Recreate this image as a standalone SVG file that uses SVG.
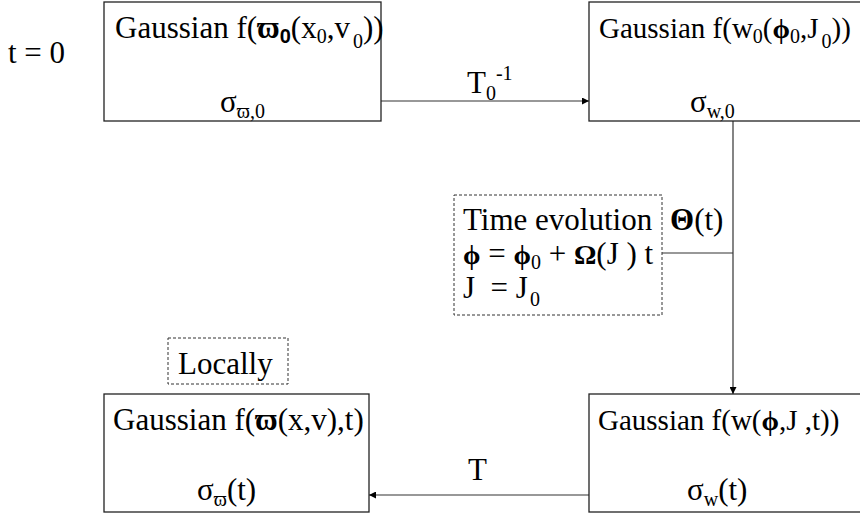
<svg xmlns="http://www.w3.org/2000/svg" width="860" height="517" viewBox="0 0 860 517" font-family="Liberation Serif, Times New Roman, serif" font-size="31">
<style>
.sub{font-size:20px}
.b{font-weight:bold}
.g{font-weight:bold;font-size:28px}
.sans{font-family:Liberation Sans, Arial, sans-serif;font-weight:bold}
.box{fill:#fff;stroke:#222;stroke-width:1.3}
.dash{fill:#fff;stroke:#333;stroke-width:1;stroke-dasharray:3,2}
.ln{fill:none;stroke:#333;stroke-width:1.2}
</style>
<defs>
<marker id="ah" viewBox="0 0 10 10" refX="10" refY="5" markerWidth="8" markerHeight="7" markerUnits="userSpaceOnUse" orient="auto">
<path d="M0,0 L10,5 L0,10 z" fill="#000"/>
</marker>
</defs>
<g id="connectors">
<line class="ln" x1="381" y1="101" x2="589" y2="101" marker-end="url(#ah)"/>
<line class="ln" x1="733" y1="121" x2="733" y2="394" marker-end="url(#ah)"/>
<line class="ln" x1="662" y1="253" x2="733" y2="253"/>
<line class="ln" x1="589" y1="495" x2="369" y2="495" marker-end="url(#ah)"/>
<text x="467" y="93">T<tspan class="sub" dy="7">0</tspan><tspan class="sub" dy="-20">-1</tspan></text>
<text x="468" y="480">T</text>
<text x="670" y="230"><tspan class="b">Θ</tspan>(t)</text>
</g>
<g id="label-t0"><text x="8" y="63">t = 0</text></g>
<g id="box1">
<rect class="box" x="104" y="2" width="277" height="119"/>
<text x="115" y="38">Gaussian f(<tspan class="b">ϖ</tspan><tspan class="sub sans" dy="5">0</tspan><tspan dy="-5">(x</tspan><tspan class="sub" dy="5">0</tspan><tspan dy="-5">,v</tspan><tspan class="sub" dx="3" dy="10">0</tspan><tspan dy="-10">))</tspan></text>
<text x="220" y="112">σ<tspan class="sub" dy="6">ϖ,0</tspan></text>
</g>
<g id="box2">
<rect class="box" x="589" y="2" width="290" height="119"/>
<text x="599" y="38" font-size="29">Gaussian f(w<tspan class="sub" dy="5">0</tspan><tspan dy="-5">(</tspan><tspan class="g">ϕ</tspan><tspan class="sub" dy="5">0</tspan><tspan dy="-5">,J</tspan><tspan class="sub" dx="3" dy="10">0</tspan><tspan dy="-10">))</tspan></text>
<text x="690" y="112">σ<tspan class="sub" dy="6">w,0</tspan></text>
</g>
<g id="time-evolution">
<rect class="dash" x="454" y="195" width="208" height="120"/>
<text x="463" y="230">Time evolution</text>
<text x="463" y="264" xml:space="preserve"><tspan class="g">ϕ</tspan> = <tspan class="g">ϕ</tspan><tspan class="sub" dy="5">0</tspan><tspan dy="-5"> + </tspan><tspan class="g">Ω</tspan>(J ) t</text>
<text x="463" y="298" xml:space="preserve">J  = J<tspan class="sub" dx="2" dy="8">0</tspan></text>
</g>
<g id="locally">
<rect class="dash" x="168" y="338" width="120" height="46"/>
<text x="178" y="374">Locally</text>
</g>
<g id="box3">
<rect class="box" x="104" y="394" width="265" height="118"/>
<text x="113" y="430">Gaussian f(<tspan class="b">ϖ</tspan>(x,v),t)</text>
<text x="197" y="500">σ<tspan class="sub" dy="6">ϖ</tspan><tspan dy="-6">(t)</tspan></text>
</g>
<g id="box4">
<rect class="box" x="589" y="394" width="290" height="118"/>
<text x="598" y="430" font-size="29" xml:space="preserve">Gaussian f(w(<tspan class="g">ϕ</tspan>,J ,t))</text>
<text x="687" y="500">σ<tspan class="sub" dy="6">w</tspan><tspan dy="-6">(t)</tspan></text>
</g>
</svg>
